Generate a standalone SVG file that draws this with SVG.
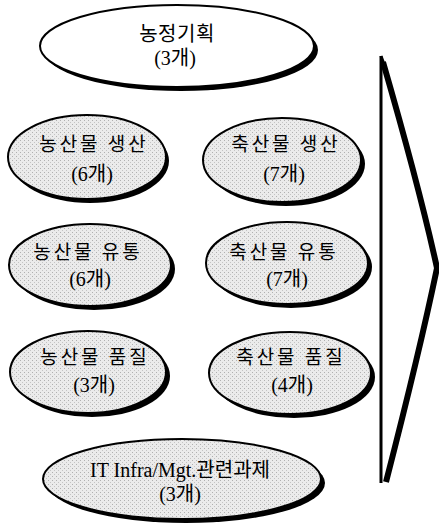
<svg xmlns="http://www.w3.org/2000/svg" width="439" height="525" viewBox="0 0 439 525">
<defs>
<pattern id="stip" width="4" height="4" patternUnits="userSpaceOnUse">
<rect width="4" height="4" fill="#ebebeb"/>
<rect x="0" y="0" width="1" height="1" fill="#b0b0b0"/>
<rect x="2" y="2" width="1" height="1" fill="#c4c4c4"/>
</pattern>
</defs>
<style>
.sh{fill:#000}
.el{fill:url(#stip);stroke:#000;stroke-width:2}
.elw{fill:#fff;stroke:#000;stroke-width:2}
.t{font-family:"Liberation Serif","Noto Sans CJK KR",serif;font-size:20px;fill:#000;text-anchor:middle}
.k{font-family:"Noto Sans CJK KR","Liberation Sans",sans-serif;font-size:19px;fill:#000;text-anchor:middle;letter-spacing:3px}
</style>
<rect width="439" height="525" fill="#fff"/>
<g id="connectors">
<path d="M381,56 L381,483" fill="none" stroke="#000" stroke-width="3"/>
<path d="M383,62 Q420,190 437,268 Q420,350 386,482" fill="none" stroke="#000" stroke-width="6"/>
<path d="M381,56 L384,64" fill="none" stroke="#000" stroke-width="3"/>
</g>
<g id="n0">
<ellipse class="sh" cx="181" cy="50" rx="137" ry="41"/>
<ellipse class="elw" cx="177" cy="46" rx="137" ry="41"/>
<text class="k" x="177" y="41" style="font-size:20px;letter-spacing:0.5px">농정기획</text>
<text class="t" x="175" y="65">(3개)</text>
</g>
<g id="n1">
<ellipse class="sh" cx="90" cy="161" rx="79" ry="42"/>
<ellipse class="el" cx="87" cy="157" rx="79" ry="42"/>
<text class="k" x="94" y="151">농산물 생산</text>
<text class="t" x="92" y="181">(6개)</text>
</g>
<g id="n2">
<ellipse class="sh" cx="286" cy="164" rx="79" ry="42"/>
<ellipse class="el" cx="282" cy="160" rx="79" ry="42"/>
<text class="k" x="286" y="151">축산물 생산</text>
<text class="t" x="284" y="181">(7개)</text>
</g>
<g id="n3">
<ellipse class="sh" cx="94" cy="269" rx="81" ry="41"/>
<ellipse class="el" cx="90" cy="265" rx="81" ry="41"/>
<text class="k" x="88" y="259">농산물 유통</text>
<text class="t" x="90" y="286">(6개)</text>
</g>
<g id="n4">
<ellipse class="sh" cx="291" cy="267" rx="81" ry="41"/>
<ellipse class="el" cx="287" cy="263" rx="81" ry="41"/>
<text class="k" x="284" y="259">축산물 유통</text>
<text class="t" x="287" y="286">(7개)</text>
</g>
<g id="n5">
<ellipse class="sh" cx="92" cy="376" rx="78" ry="41"/>
<ellipse class="el" cx="88" cy="372" rx="78" ry="41"/>
<text class="k" x="95" y="364">농산물 품질</text>
<text class="t" x="94" y="392">(3개)</text>
</g>
<g id="n6">
<ellipse class="sh" cx="294" cy="377" rx="81" ry="41"/>
<ellipse class="el" cx="290" cy="373" rx="81" ry="41"/>
<text class="k" x="291" y="364">축산물 품질</text>
<text class="t" x="292" y="392">(4개)</text>
</g>
<g id="n7">
<ellipse class="sh" cx="186" cy="483" rx="139" ry="40"/>
<ellipse class="el" cx="182" cy="479" rx="139" ry="40"/>
<text class="t" x="180" y="477">IT Infra/Mgt.관련과제</text>
<text class="t" x="180" y="501">(3개)</text>
</g>
</svg>
